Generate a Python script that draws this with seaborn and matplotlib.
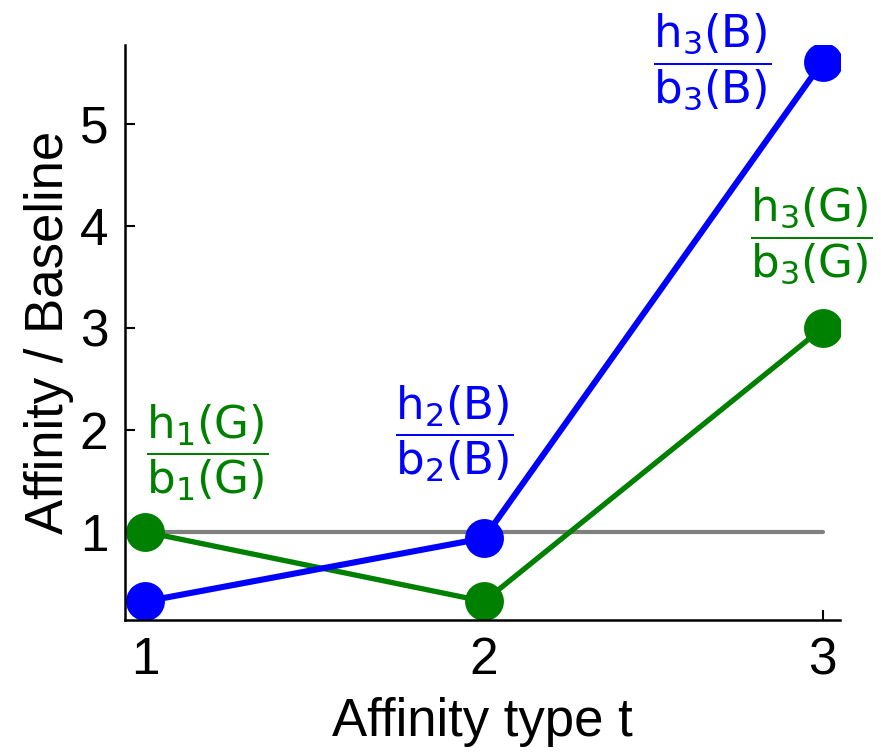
import matplotlib
matplotlib.use("Agg")
import matplotlib.pyplot as plt
import seaborn as sns
import pandas as pd

# Affinity-to-baseline ratios per affinity type
affinity_type = [1, 2, 3]
ratio_blue = [0.32, 0.94, 5.61]
ratio_green = [1.00, 0.32, 3.00]
baseline = [1.0, 1.0]
baseline_x = [1, 3]

y_ticks = [1, 2, 3, 4, 5]
x_ticks = [1, 2, 3]

labels = [
    (r"$\dfrac{\mathrm{h_1(G)}}{\mathrm{b_1(G)}}$", 1.183, 1.78, "green"),
    (r"$\dfrac{\mathrm{h_2(B)}}{\mathrm{b_2(B)}}$", 1.912, 1.96, "blue"),
    (r"$\dfrac{\mathrm{h_3(B)}}{\mathrm{b_3(B)}}$", 2.673, 5.61, "blue"),
    (r"$\dfrac{\mathrm{h_3(G)}}{\mathrm{b_3(G)}}$", 2.965, 3.90, "green"),
]

sns.set_theme(style="white")
plt.rcParams["font.family"] = ["Liberation Sans", "DejaVu Sans"]
plt.rcParams["mathtext.fontset"] = "dejavusans"
plt.rcParams["text.color"] = "black"
plt.rcParams["axes.labelcolor"] = "black"

df = pd.DataFrame({
    "t": affinity_type * 2,
    "ratio": ratio_green + ratio_blue,
    "group": ["G"] * 3 + ["B"] * 3,
})

fig = plt.figure(figsize=(8.81, 7.54), dpi=100)
ax = fig.add_axes([0.142, 0.178, 0.811, 0.762])

sns.lineplot(x=baseline_x, y=baseline, ax=ax, color="#808080", lw=3, zorder=1)
sns.lineplot(data=df, x="t", y="ratio", hue="group", hue_order=["G", "B"],
             palette={"G": "green", "B": "blue"}, marker="o", markersize=28,
             markeredgewidth=0, lw=4, sort=False, legend=False, ax=ax, zorder=2)

# blue trace slightly heavier than the green one
for ln in ax.lines[1:]:
    if ln.get_color() == "blue":
        ln.set_linewidth(4.4)
    else:
        ln.set_linewidth(3.8)

for txt, x, y, c in labels:
    ax.text(x, y, txt, color=c, fontsize=32.5, ha="center", va="center",
            clip_on=False)

ax.set_xlim(0.94, 3.05)
ax.set_ylim(0.14, 5.77)
ax.set_xticks(x_ticks)
ax.set_yticks(y_ticks)
ax.tick_params(direction="in", length=7, width=1.5, labelsize=37,
               colors="black", bottom=True, left=True, pad=12)
for s in ["top", "right"]:
    ax.spines[s].set_visible(False)
for s in ["left", "bottom"]:
    ax.spines[s].set_color("black")
    ax.spines[s].set_linewidth(1.8)

ax.set_xlabel("Affinity type t", fontsize=38, labelpad=8, color="black")
ax.set_ylabel("Affinity / Baseline", fontsize=38, labelpad=4, color="black")

fig.savefig("out.png", dpi=100)
